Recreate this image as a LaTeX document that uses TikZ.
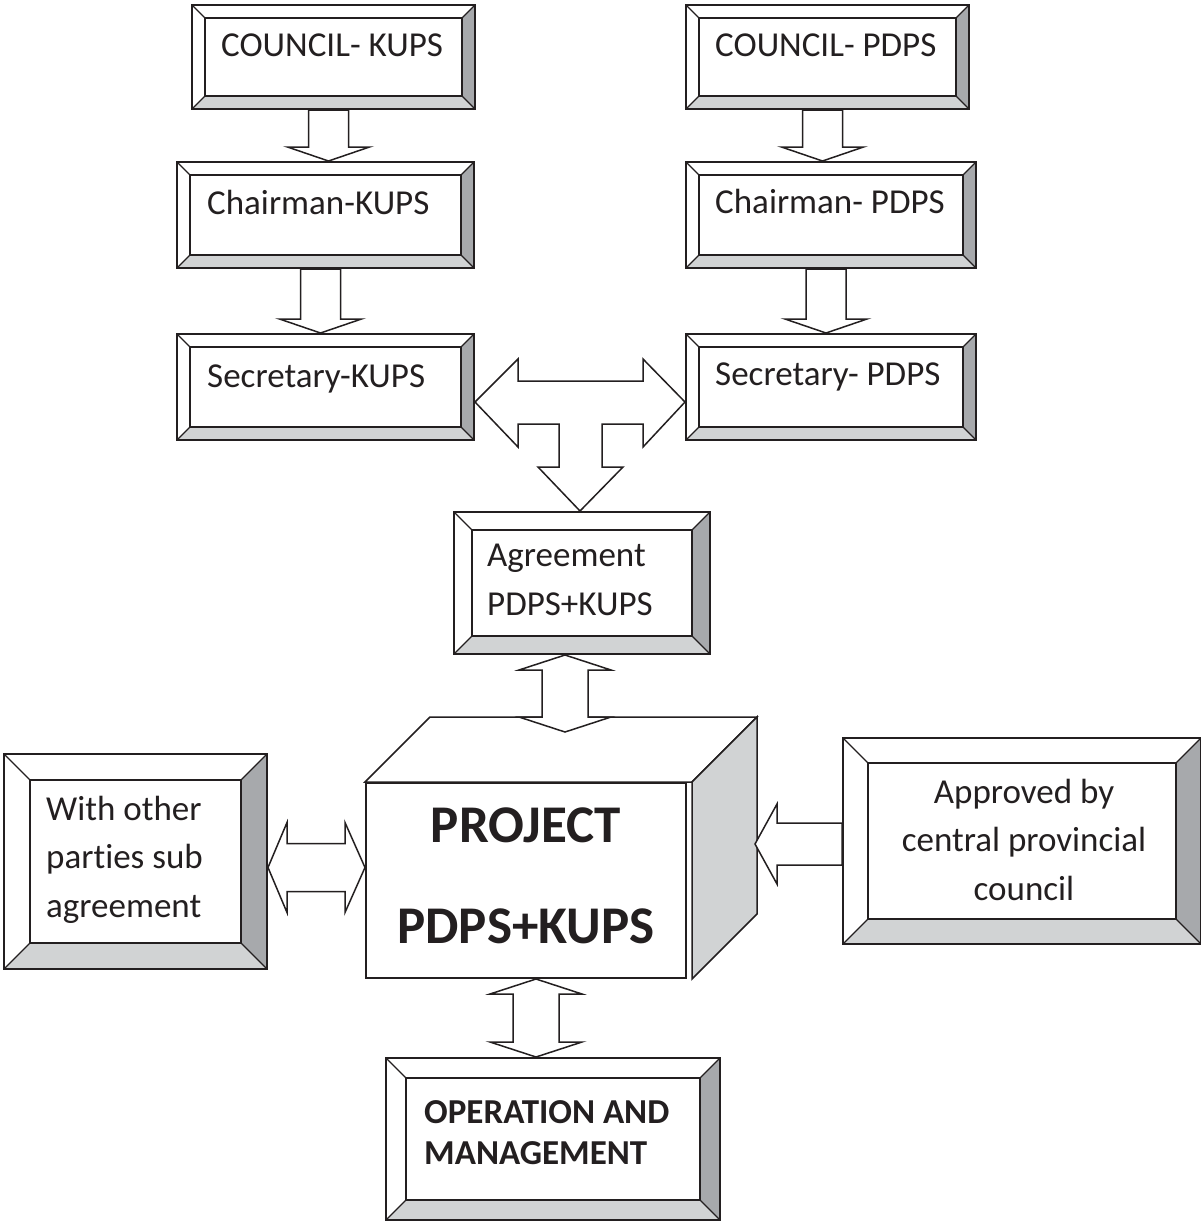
\documentclass[tikz,border=0pt]{standalone}
\usepackage{fontspec}
\setmainfont[Ligatures={NoCommon}]{Carlito}
\usetikzlibrary{calc}

\definecolor{linec}{RGB}{35,31,32}
\definecolor{darkface}{RGB}{167,169,172}
\definecolor{lightface}{RGB}{209,211,212}

% bevel of a framed box, #1 = width of the bevel
\newcommand{\bevelshade}[1]{%
  \coordinate (onw) at (path picture bounding box.north west);
  \coordinate (one) at (path picture bounding box.north east);
  \coordinate (osw) at (path picture bounding box.south west);
  \coordinate (ose) at (path picture bounding box.south east);
  \coordinate (inw) at ($(onw)+(#1,#1)$);
  \coordinate (ine) at ($(one)+(-#1,#1)$);
  \coordinate (isw) at ($(osw)+(#1,-#1)$);
  \coordinate (ise) at ($(ose)+(-#1,-#1)$);
  \fill[darkface] (one) -- (ose) -- (ise) -- (ine) -- cycle;
  \fill[lightface] (osw) -- (ose) -- (ise) -- (isw) -- cycle;
  \draw[linec, line width=1.4pt] (inw) rectangle (ise);
  \draw[linec, line width=1.2pt] (onw) -- (inw) (one) -- (ine) (osw) -- (isw) (ose) -- (ise);
}

% block arrow pointing down from #1 to #2
\newcommand{\downblock}[2]{%
  \coordinate (da) at ($(#1.south)+(-5,0)$);
  \coordinate (db) at (da |- #2.north);
  \draw[blockarrow] ($(da)+(-20,0)$) -- ($(db)+(-20,-14)$) -- ($(db)+(-41,-14)$) -- (db)
    -- ($(db)+(41,-14)$) -- ($(db)+(20,-14)$) -- ($(da)+(20,0)$) -- cycle;
}

% vertical block arrow with two heads, tips #1 (top) and #2 (bottom)
\newcommand{\vdoubleblock}[2]{%
  \draw[blockarrow] (#1) -- ++(46,15) -- ++(-23,0) -- ($(#2)+(23,-15)$) -- ++(23,0) -- (#2)
    -- ++(-46,-15) -- ++(23,0) -- ($(#1)+(-23,15)$) -- ++(-23,0) -- cycle;
}

\tikzset{
  bevelbox/.style={draw=linec, line width=2pt, fill=white, inner sep=0pt,
    anchor=north west, path picture={\bevelshade{#1}}},
  boxtext/.style={inner sep=0pt, text=linec, font=\fontsize{35}{48.5}\selectfont},
  blockarrow/.style={draw=linec, fill=white, line width=1.5pt, line join=miter},
}

\begin{document}
\begin{tikzpicture}[x=1pt,y=-1pt]
	\useasboundingbox (0,0) rectangle (1200,1221);

	% KUPS column
	\node[bevelbox=13, minimum width=283, minimum height=104] (ckups) at (191,4) {};
	\node[bevelbox=13, minimum width=297, minimum height=106] (hkups) at (176,161) {};
	\node[bevelbox=13, minimum width=297, minimum height=106] (skups) at (176,333) {};
	\node[boxtext, anchor=base west] (ckupst) at ($(ckups.north west)+(30,52)$) {COUNCIL- KUPS};
	\node[boxtext, anchor=base west] (hkupst) at ($(hkups.north west)+(31,53)$) {Chairman-KUPS};
	\node[boxtext, anchor=base west] (skupst) at ($(skups.north west)+(31,54)$) {Secretary-KUPS};

	% PDPS column
	\node[bevelbox=13, minimum width=283, minimum height=104] (cpdps) at (685,4) {};
	\node[bevelbox=13, minimum width=290, minimum height=106] (hpdps) at (685,161) {};
	\node[bevelbox=13, minimum width=290, minimum height=106] (spdps) at (685,333) {};
	\node[boxtext, anchor=base west] (cpdpst) at ($(cpdps.north west)+(30,52)$) {COUNCIL- PDPS};
	\node[boxtext, anchor=base west] (hpdpst) at ($(hpdps.north west)+(30,52)$) {Chairman- PDPS};
	\node[boxtext, anchor=base west] (spdpst) at ($(spdps.north west)+(30,52)$) {Secretary- PDPS};

	% arrows down the columns
	\downblock{ckups}{hkups}
	\downblock{hkups}{skups}
	\downblock{cpdps}{hpdps}
	\downblock{hpdps}{spdps}

	% agreement
	\node[bevelbox=18, minimum width=256, minimum height=142] (agree) at (453,511) {};
	\node[boxtext, anchor=base west, align=left] (agreet) at ($(agree.north west)+(34,104)$) {Agreement\\PDPS+KUPS};

	% T arrow between the secretaries and the agreement
	\coordinate (tl) at ($(skups.east)+(0,15)$);
	\coordinate (tr) at (tl -| spdps.west);
	\coordinate (tb) at ($(agree.north)+(-2,0)$);
	\coordinate (tbr) at ($(tb)+(22,0)$);
	\coordinate (tbl) at ($(tb)+(-21,0)$);
	\coordinate (tsy) at ($(tr)+(0,22)$);
	\draw[blockarrow] (tl) -- ++(43,-43) -- ++(0,22) -- ($(tr)+(-42,-21)$) -- ++(0,-22) -- (tr)
		-- ++(-42,45) -- ++(0,-23) -- (tbr |- tsy) -- ($(tb)+(22,-44)$) -- ($(tb)+(43,-44)$) -- (tb)
		-- ($(tb)+(-42,-44)$) -- ($(tb)+(-21,-44)$) -- (tbl |- tsy) -- ($(tl)+(43,22)$) -- ($(tl)+(43,45)$) -- cycle;

	% the project block
	\node[draw=linec, line width=2pt, fill=white, minimum width=320, minimum height=195, anchor=north west,
		text=linec, font=\bfseries\fontsize{53}{101}\selectfont, align=center, text depth=10pt] (proj) at (365,782) {PROJECT\\PDPS+KUPS};
	\draw[blockarrow] (proj.north west) -- ++(65,-65) -- ($(proj.north east)+(70,-65)$) -- ($(proj.north east)+(5,0)$) -- cycle;
	\draw[blockarrow, fill=lightface] ($(proj.north east)+(5,0)$) -- ++(65,-65) -- ($(proj.south east)+(70,-65)$)
		-- ($(proj.south east)+(5,0)$) -- cycle;
	\coordinate (ptop) at ($(proj.north west)+(0,-65)$);

	% agreement <-> project
	\coordinate (aa) at ($(agree.south)+(-17,0)$);
	\coordinate (ab) at ($(aa |- ptop)+(0,15)$);
	\vdoubleblock{aa}{ab}

	% other parties
	\node[bevelbox=26, minimum width=263, minimum height=215] (wbox) at (3,753) {};
	\node[boxtext, anchor=base west, align=left] (wboxt) at ($(wbox.north west)+(43,164)$) {With other\\parties sub\\agreement};
	\coordinate (hl) at ($(wbox.east)+(0,6)$);
	\coordinate (hr) at (hl -| proj.west);
	\draw[blockarrow] (hl) -- ++(19,-45) -- ++(0,21) -- ($(hr)+(-20,-24)$) -- ++(0,-21) -- (hr)
		-- ++(-20,45) -- ++(0,-21) -- ($(hl)+(19,24)$) -- ++(0,21) -- cycle;

	% approval
	\node[bevelbox=25, minimum width=358, minimum height=206] (appr) at (842,737) {};
	\node[boxtext, anchor=base, align=center] (apprt) at ($(appr.north)+(2,163)$) {Approved by\\central provincial\\council};
	\coordinate (ta) at ($(appr.west)+(0,3)$);
	\coordinate (rfx) at ($(proj.east)+(68,0)$);
	\coordinate (tip) at (ta -| rfx);
	\draw[blockarrow] (tip) -- ++(22,-40) -- ++(0,19) -- ($(ta)+(0,-21)$) -- ($(ta)+(0,21)$)
		-- ($(tip)+(22,21)$) -- ++(0,19) -- cycle;

	% operation and management
	\node[bevelbox=20, minimum width=334, minimum height=162] (ops) at (385,1057) {};
	\node[boxtext, anchor=base west, align=left, font=\bfseries\fontsize{35}{41}\selectfont] (opst)
		at ($(ops.north west)+(39,107)$) {OPERATION AND\\MANAGEMENT};
	\coordinate (oa) at ($(proj.south)+(10,0)$);
	\coordinate (ob) at (oa |- ops.north);
	\vdoubleblock{oa}{ob}

\end{tikzpicture}
\end{document}
